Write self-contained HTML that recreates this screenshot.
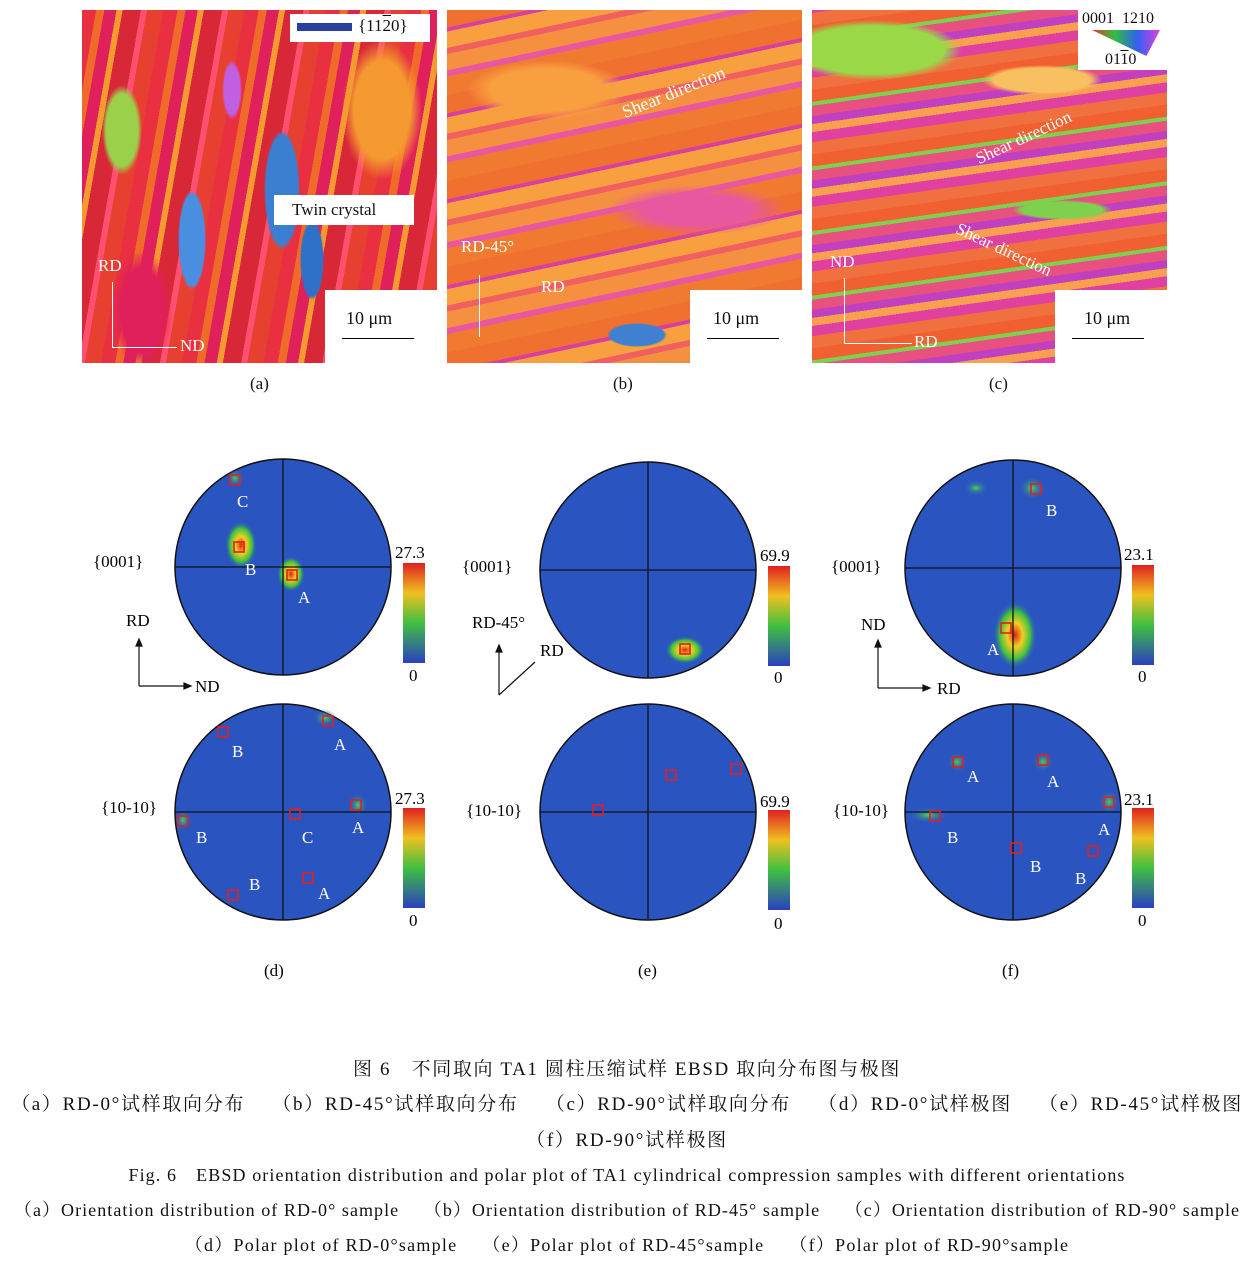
<!DOCTYPE html>
<html><head><meta charset="utf-8">
<style>
body{margin:0;background:#fff;width:1254px;height:1268px;position:relative;overflow:hidden;font-family:"Liberation Serif","Noto Serif CJK SC",serif;color:#111}
.abs{position:absolute}
.map{position:absolute;top:10px;width:355px;height:353px;overflow:hidden}
.wb{position:absolute;background:#fff}
.t{position:absolute;white-space:nowrap}
.cap{position:absolute;left:0;width:1254px;text-align:center;white-space:nowrap;font-size:19px}
</style></head><body>

<!-- (a) -->
<div class="map" style="left:82px;background:
radial-gradient(ellipse 18px 60px at 200px 180px,#3a7fd0 90%,transparent 100%),
radial-gradient(ellipse 14px 50px at 110px 230px,#4a8ee0 90%,transparent 100%),
radial-gradient(ellipse 12px 40px at 230px 250px,#2f70c8 90%,transparent 100%),
radial-gradient(ellipse 20px 45px at 40px 120px,#9bd04a 80%,transparent 100%),
radial-gradient(ellipse 10px 30px at 150px 80px,#c060e0 80%,transparent 100%),
radial-gradient(ellipse 40px 70px at 300px 100px,#f59a30 70%,transparent 100%),
radial-gradient(ellipse 30px 60px at 60px 300px,#e0205a 70%,transparent 100%),
repeating-linear-gradient(100deg,#e83040 0 14px,#f06a2a 14px 22px,#e0205a 22px 34px,#f59a30 34px 40px,#d82838 40px 58px,#ff5070 58px 64px,#e84030 64px 80px);">
<div class="wb" style="left:243px;top:280px;width:112px;height:73px"></div>
<div class="wb" style="left:208px;top:4px;width:140px;height:28px"></div>
<div class="abs" style="left:215px;top:13px;width:55px;height:8px;background:#2a3fa0"></div>
<div class="t" style="left:276px;top:6px;font-size:17px">{11<span style="text-decoration:overline">2</span>0}</div>
<div class="t" style="left:264px;top:298px;font-size:18px">10 μm</div>
<div class="abs" style="left:260px;top:328px;width:72px;height:1px;background:#000"></div>
<div class="wb" style="left:192px;top:185px;width:140px;height:30px"></div>
<div class="t" style="left:210px;top:190px;font-size:17px">Twin crystal</div>
<div class="t" style="left:16px;top:246px;font-size:17px;color:#fff">RD</div>
<div class="t" style="left:98px;top:326px;font-size:17px;color:#fff">ND</div>
<div class="abs" style="left:30px;top:272px;width:1px;height:65px;background:#fff"></div>
<div class="abs" style="left:30px;top:337px;width:65px;height:1px;background:#fff"></div>
</div>

<!-- (b) -->
<div class="map" style="left:447px;background:
radial-gradient(ellipse 40px 20px at 300px 300px,#70d040 90%,transparent 100%),
radial-gradient(ellipse 30px 12px at 190px 325px,#4080d0 90%,transparent 100%),
radial-gradient(ellipse 80px 30px at 100px 80px,#f8a040 70%,transparent 100%),
radial-gradient(ellipse 90px 25px at 250px 200px,#e858a0 60%,transparent 100%),
repeating-linear-gradient(-12deg,#f07a30 0 18px,#e858a0 18px 24px,#f59040 24px 40px,#f06060 40px 46px,#f8a040 46px 62px,#d840a0 62px 66px,#f07030 66px 84px);">
<div class="wb" style="left:243px;top:280px;width:112px;height:73px"></div>
<div class="t" style="left:266px;top:298px;font-size:18px">10 μm</div>
<div class="abs" style="left:260px;top:328px;width:72px;height:1px;background:#000"></div>
<div class="t" style="left:172px;top:72px;font-size:18px;color:#fff;transform:rotate(-22deg)">Shear direction</div>
<div class="t" style="left:14px;top:227px;font-size:17px;color:#fff">RD-45°</div>
<div class="t" style="left:94px;top:267px;font-size:17px;color:#fff">RD</div>
<div class="abs" style="left:32px;top:265px;width:1px;height:62px;background:#fff"></div>
</div>

<!-- (c) -->
<div class="map" style="left:812px;background:
radial-gradient(ellipse 90px 30px at 60px 40px,#9ad848 80%,transparent 100%),
radial-gradient(ellipse 60px 15px at 230px 70px,#f8c060 80%,transparent 100%),
radial-gradient(ellipse 50px 10px at 250px 200px,#80d050 80%,transparent 100%),
repeating-linear-gradient(-8deg,#f07040 0 12px,#e040a0 12px 22px,#f8a050 22px 30px,#c040c0 30px 38px,#e85080 38px 48px,#80d050 48px 52px,#f06030 52px 64px);">
<div class="wb" style="left:266px;top:0;width:89px;height:60px"></div>
<div class="wb" style="left:243px;top:280px;width:112px;height:73px"></div>
<div class="t" style="left:270px;top:0;font-size:16px">0001 &nbsp;<span style="text-decoration:overline">1</span>2<span style="text-decoration:overline">1</span>0</div>
<div class="abs" style="left:280px;top:20px;width:68px;height:26px;background:linear-gradient(90deg,#f03030,#30c040,#3060f0,#e040e0);clip-path:polygon(0 0,100% 0,80% 100%)"></div>
<div class="t" style="left:293px;top:41px;font-size:16px">01<span style="text-decoration:overline">1</span>0</div>
<div class="t" style="left:272px;top:298px;font-size:18px">10 μm</div>
<div class="abs" style="left:260px;top:328px;width:72px;height:1px;background:#000"></div>
<div class="t" style="left:160px;top:118px;font-size:17px;color:#fff;transform:rotate(-25deg)">Shear direction</div>
<div class="t" style="left:140px;top:230px;font-size:17px;color:#fff;transform:rotate(25deg)">Shear direction</div>
<div class="t" style="left:18px;top:242px;font-size:17px;color:#fff">ND</div>
<div class="t" style="left:102px;top:322px;font-size:17px;color:#fff">RD</div>
<div class="abs" style="left:32px;top:268px;width:1px;height:65px;background:#fff"></div>
<div class="abs" style="left:32px;top:333px;width:68px;height:1px;background:#fff"></div>
</div>

<div class="t" style="left:250px;top:374px;font-size:17px">(a)</div>
<div class="t" style="left:613px;top:374px;font-size:17px">(b)</div>
<div class="t" style="left:989px;top:374px;font-size:17px">(c)</div>

<svg class="abs" style="left:0;top:0" width="1254" height="1268">
<defs>
<radialGradient id="hs"><stop offset="0" stop-color="#e02020"/><stop offset="0.35" stop-color="#f0d020"/><stop offset="0.7" stop-color="#40c040"/><stop offset="1" stop-color="#2a55c0" stop-opacity="0"/></radialGradient>
<radialGradient id="ws"><stop offset="0" stop-color="#50d050"/><stop offset="1" stop-color="#2a55c0" stop-opacity="0"/></radialGradient>
<linearGradient id="cb" x1="0" y1="0" x2="0" y2="1"><stop offset="0" stop-color="#e02020"/><stop offset="0.3" stop-color="#f0c020"/><stop offset="0.6" stop-color="#40c040"/><stop offset="1" stop-color="#2a40c0"/></linearGradient>
</defs>
<g font-family="Liberation Serif,serif" font-size="17">
<g fill="#2a55c0" stroke="#111" stroke-width="1.5">
<circle cx="283" cy="567" r="108"/><circle cx="283" cy="812" r="108"/>
<circle cx="648" cy="570" r="108"/><circle cx="648" cy="812" r="108"/>
<circle cx="1013" cy="568" r="108"/><circle cx="1013" cy="812" r="108"/>
</g>
<ellipse cx="241" cy="545" rx="16" ry="24" fill="url(#hs)"/>
<ellipse cx="291" cy="574" rx="14" ry="18" fill="url(#hs)"/>
<ellipse cx="235" cy="478" rx="9" ry="9" fill="url(#ws)"/>
<ellipse cx="685" cy="650" rx="20" ry="14" fill="url(#hs)"/>
<ellipse cx="1032" cy="488" rx="14" ry="12" fill="url(#ws)"/>
<ellipse cx="976" cy="488" rx="12" ry="8" fill="url(#ws)"/>
<ellipse cx="1015" cy="635" rx="22" ry="34" fill="url(#hs)"/>
<ellipse cx="325" cy="718" rx="12" ry="9" fill="url(#ws)"/>
<ellipse cx="358" cy="805" rx="10" ry="12" fill="url(#ws)"/>
<ellipse cx="183" cy="820" rx="8" ry="10" fill="url(#ws)"/>
<ellipse cx="1109" cy="802" rx="10" ry="12" fill="url(#ws)"/>
<ellipse cx="957" cy="762" rx="10" ry="10" fill="url(#ws)"/>
<ellipse cx="1043" cy="762" rx="10" ry="10" fill="url(#ws)"/>
<ellipse cx="928" cy="815" rx="20" ry="8" fill="url(#ws)"/>
<g stroke="#111" stroke-width="1.3">
<line x1="175" y1="567" x2="391" y2="567"/><line x1="283" y1="459" x2="283" y2="675"/>
<line x1="175" y1="812" x2="391" y2="812"/><line x1="283" y1="704" x2="283" y2="920"/>
<line x1="540" y1="570" x2="756" y2="570"/><line x1="648" y1="462" x2="648" y2="678"/>
<line x1="540" y1="812" x2="756" y2="812"/><line x1="648" y1="704" x2="648" y2="920"/>
<line x1="905" y1="568" x2="1121" y2="568"/><line x1="1013" y1="460" x2="1013" y2="676"/>
<line x1="905" y1="812" x2="1121" y2="812"/><line x1="1013" y1="704" x2="1013" y2="920"/>
</g>
<g fill="none" stroke="#e02020" stroke-width="1.6">
<rect x="230" y="475" width="10" height="10"/><rect x="234" y="542" width="10" height="10"/><rect x="287" y="570" width="10" height="10"/>
<rect x="680" y="644" width="10" height="10"/>
<rect x="1031" y="484" width="10" height="10"/><rect x="1001" y="623" width="10" height="10"/>
<rect x="218" y="727" width="10" height="10"/><rect x="323" y="716" width="10" height="10"/><rect x="351" y="800" width="10" height="10"/>
<rect x="178" y="816" width="10" height="10"/><rect x="290" y="809" width="10" height="10"/><rect x="303" y="873" width="10" height="10"/><rect x="228" y="890" width="10" height="10"/>
<rect x="666" y="770" width="10" height="10"/><rect x="731" y="764" width="10" height="10"/><rect x="593" y="805" width="10" height="10"/>
<rect x="953" y="757" width="10" height="10"/><rect x="1038" y="755" width="10" height="10"/><rect x="1104" y="797" width="10" height="10"/>
<rect x="930" y="811" width="10" height="10"/><rect x="1011" y="843" width="10" height="10"/><rect x="1088" y="846" width="10" height="10"/>
</g>
<g fill="#fff">
<text x="237" y="507">C</text><text x="245" y="575">B</text><text x="298" y="603">A</text>
<text x="987" y="655">A</text><text x="1046" y="516">B</text>
<text x="232" y="757">B</text><text x="334" y="750">A</text><text x="352" y="833">A</text><text x="196" y="843">B</text><text x="302" y="843">C</text><text x="249" y="890">B</text><text x="318" y="899">A</text>
<text x="967" y="782">A</text><text x="1047" y="787">A</text><text x="1098" y="835">A</text><text x="947" y="843">B</text><text x="1030" y="872">B</text><text x="1075" y="884">B</text>
</g>
<rect x="403" y="563" width="22" height="100" fill="url(#cb)"/>
<rect x="768" y="566" width="22" height="100" fill="url(#cb)"/>
<rect x="1132" y="565" width="22" height="100" fill="url(#cb)"/>
<rect x="403" y="808" width="22" height="100" fill="url(#cb)"/>
<rect x="768" y="810" width="22" height="100" fill="url(#cb)"/>
<rect x="1132" y="808" width="22" height="100" fill="url(#cb)"/>
<text x="395" y="558">27.3</text><text x="409" y="681">0</text>
<text x="760" y="561">69.9</text><text x="774" y="683">0</text>
<text x="1124" y="560">23.1</text><text x="1138" y="682">0</text>
<text x="395" y="804">27.3</text><text x="409" y="926">0</text>
<text x="760" y="807">69.9</text><text x="774" y="929">0</text>
<text x="1124" y="805">23.1</text><text x="1138" y="926">0</text>
<text x="93" y="567">{0001}</text><text x="462" y="572">{0001}</text><text x="831" y="572">{0001}</text>
<text x="101" y="813">{10-10}</text><text x="466" y="816">{10-10}</text><text x="833" y="816">{10-10}</text>
<text x="126" y="626">RD</text><text x="195" y="692">ND</text>
<text x="472" y="628">RD-45°</text><text x="540" y="656">RD</text>
<text x="861" y="630">ND</text><text x="937" y="694">RD</text>
<text x="264" y="976">(d)</text><text x="638" y="976">(e)</text><text x="1002" y="976">(f)</text>
</g>
<g stroke="#111" stroke-width="1.2" fill="#111">
<line x1="139" y1="686" x2="139" y2="644"/><polygon points="136,646 142,646 139,639"/>
<line x1="139" y1="686" x2="186" y2="686"/><polygon points="184,683 184,689 191,686"/>
<line x1="499" y1="695" x2="499" y2="650"/><polygon points="496,652 502,652 499,645"/>
<line x1="499" y1="695" x2="535" y2="662"/>
<line x1="878" y1="688" x2="878" y2="645"/><polygon points="875,647 881,647 878,640"/>
<line x1="878" y1="688" x2="925" y2="688"/><polygon points="923,685 923,691 930,688"/>
</g>
</svg>

<div class="cap" style="top:1054px;letter-spacing:1.6px">图 6　不同取向 TA1 圆柱压缩试样 EBSD 取向分布图与极图</div>
<div class="cap" style="top:1089px;letter-spacing:1.7px">（a）RD-0°试样取向分布　 （b）RD-45°试样取向分布　 （c）RD-90°试样取向分布　 （d）RD-0°试样极图　 （e）RD-45°试样极图</div>
<div class="cap" style="top:1125px;letter-spacing:1.7px">（f）RD-90°试样极图</div>
<div class="cap" style="top:1161px;font-size:18px;letter-spacing:1.1px">Fig. 6　EBSD orientation distribution and polar plot of TA1 cylindrical compression samples with different orientations</div>
<div class="cap" style="top:1196px;font-size:18px;letter-spacing:1.05px">（a）Orientation distribution of RD-0° sample　 （b）Orientation distribution of RD-45° sample　 （c）Orientation distribution of RD-90° sample</div>
<div class="cap" style="top:1231px;font-size:18px;letter-spacing:1.25px">（d）Polar plot of RD-0°sample　 （e）Polar plot of RD-45°sample　 （f）Polar plot of RD-90°sample</div>
</body></html>
